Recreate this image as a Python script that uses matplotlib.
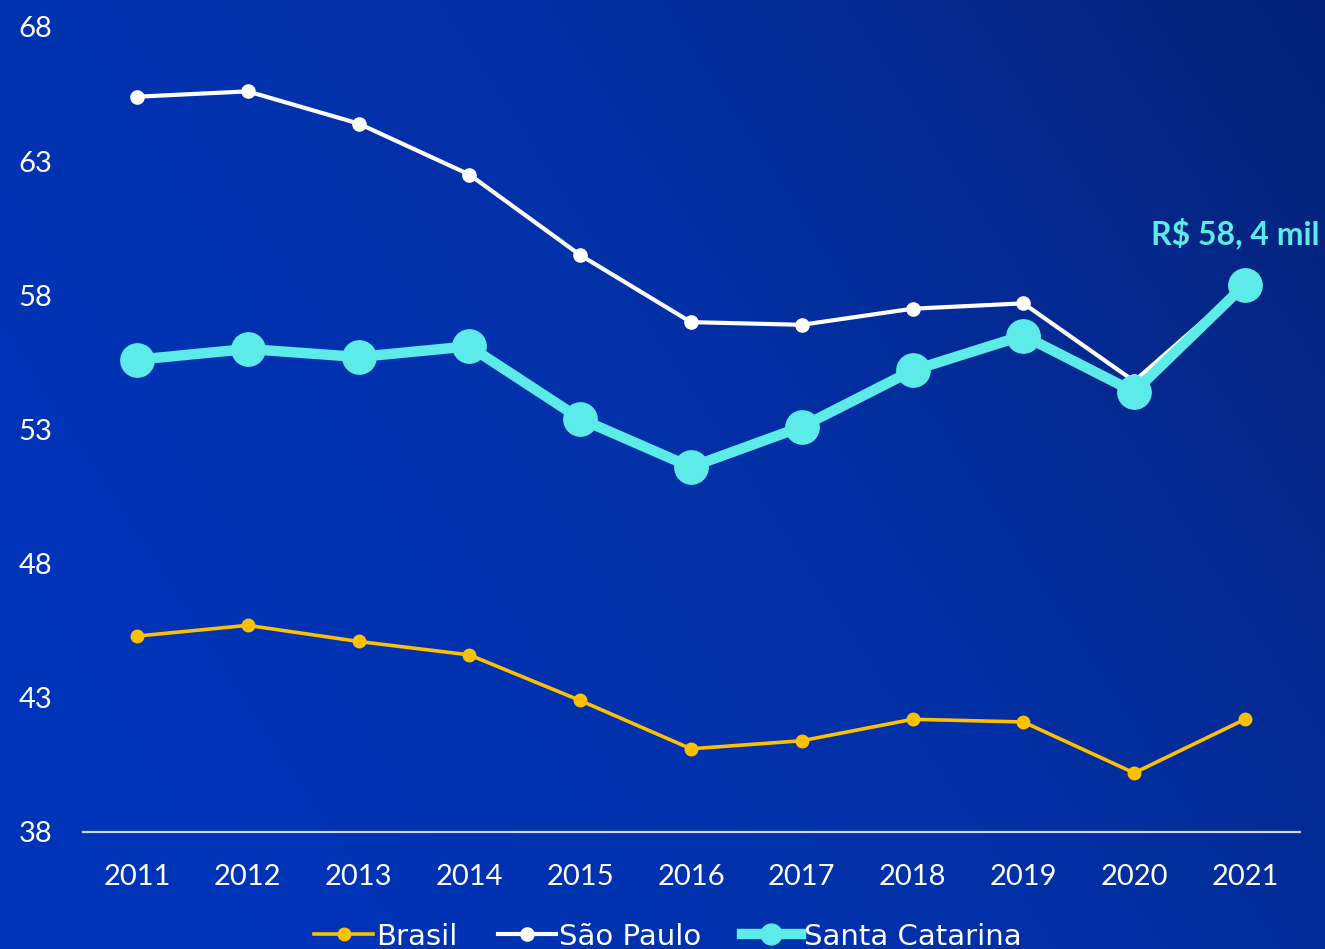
import numpy as np
import matplotlib
matplotlib.use("Agg")
import matplotlib.pyplot as plt
from matplotlib.colors import LinearSegmentedColormap

plt.rcParams["font.family"] = ["Lato", "DejaVu Sans"]

anos = [2011, 2012, 2013, 2014, 2015, 2016, 2017, 2018, 2019, 2020, 2021]
brasil = [45.3, 45.7, 45.1, 44.6, 42.9, 41.1, 41.4, 42.2, 42.1, 40.2, 42.2]
sao_paulo = [65.4, 65.6, 64.4, 62.5, 59.5, 57.0, 56.9, 57.5, 57.7, 54.8, 58.4]
santa_catarina = [55.6, 56.0, 55.7, 56.1, 53.4, 51.6, 53.1, 55.2, 56.5, 54.4, 58.4]
yticks = [38, 43, 48, 53, 58, 63, 68]

AMARELO = "#ffc000"
CIANO = "#5cebe8"

fig = plt.figure(figsize=(13.25, 9.49), dpi=100)

# fundo azul em degradê
bg = fig.add_axes([0, 0, 1, 1], zorder=-10)
gx, gy = np.meshgrid(np.linspace(0, 1, 400), np.linspace(0, 1, 300))
grad = np.clip(0.75 * gx + 0.35 * (1 - gy) - 0.15, 0, 1)
cmap_bg = LinearSegmentedColormap.from_list("bg", ["#0034b8", "#0230a6", "#062278"])
bg.imshow(grad, cmap=cmap_bg, aspect="auto", extent=[0, 1, 0, 1], origin="upper")
bg.axis("off")

ax = fig.add_axes([0.0626, 0.1233, 0.9185, 0.8483])
ax.patch.set_alpha(0)

ax.plot(anos, brasil, color=AMARELO, lw=2.6, marker="o", ms=9, label="Brasil", zorder=3)
ax.plot(anos, sao_paulo, color="white", lw=3, marker="o", ms=9.5, label="São Paulo", zorder=3)
ax.plot(anos, santa_catarina, color=CIANO, lw=7.5, marker="o", ms=24, label="Santa Catarina", zorder=4)

ax.text(anos[-1] - 0.85, santa_catarina[-1] + 1.9, "R$ 58, 4 mil", color=CIANO,
        fontsize=23, weight="bold", ha="left", va="center")

ax.set_xlim(2010.513, 2021.496)
ax.set_ylim(38, 68)
ax.set_xticks(anos)
ax.set_yticks(yticks)
ax.tick_params(length=0, colors="white", labelsize=21)
ax.tick_params(axis="y", pad=22)
ax.tick_params(axis="x", pad=23)
for s in ["top", "right", "left"]:
    ax.spines[s].set_visible(False)
ax.spines["bottom"].set_color("#d0d4e8")
ax.spines["bottom"].set_linewidth(1.6)

h, l = ax.get_legend_handles_labels()
leg = fig.legend(h, l, loc="center", bbox_to_anchor=(0.504, 0.013), ncol=3, frameon=False,
                 prop={"family": "DejaVu Sans", "size": 21}, labelcolor="white",
                 handlelength=2.0, handletextpad=0.1, columnspacing=1.4)
for lh, ms in zip(leg.legend_handles, [9, 9.5, 15]):
    lh.set_markersize(ms)

fig.savefig("out.png", dpi=100)
